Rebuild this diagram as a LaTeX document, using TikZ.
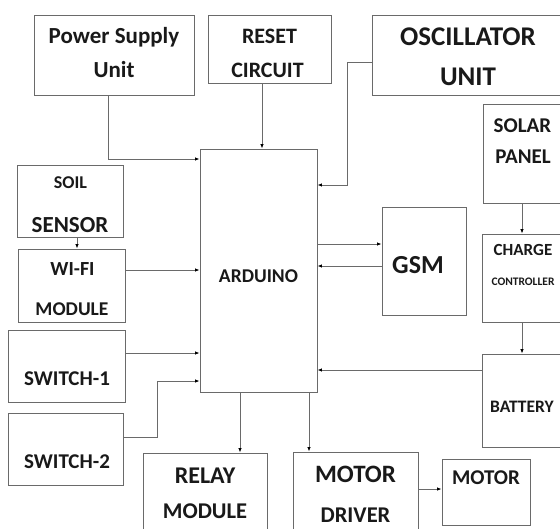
\documentclass[tikz,border=0pt]{standalone}
\usepackage{fontspec}
\setmainfont{Carlito}
\usetikzlibrary{arrows.meta}
\definecolor{edge}{HTML}{6A6A6A}
\tikzset{
  box/.style={draw=edge, line width=0.9pt, inner sep=0pt, fill=none},
  txt/.style={anchor=base, inner sep=0pt, text=black!90},
  arr/.style={draw=edge, line width=0.8pt, -{Latex[length=4.5pt,width=3.5pt,color=black]}},
}
\newcommand\fs[1]{\fontsize{#1}{#1}\selectfont\bfseries}
\begin{document}
\begin{tikzpicture}[x=1pt,y=-1pt]
\useasboundingbox (0,0) rectangle (560,528);
\clip (0,0) rectangle (560,528);
\fill[white] (0,0) rectangle (560,528);
% boxes
\node[box, minimum width=160, minimum height=80] (psu) at (114,55) {};
\node[box, minimum width=123, minimum height=68] (rst) at (269.5,49) {};
\node[box, minimum width=218, minimum height=80] (osc) at (481,55) {};
\node[box, minimum width=97, minimum height=99] (sol) at (531.5,153.5) {};
\node[box, minimum width=98, minimum height=88] (chg) at (531,278) {};
\node[box, minimum width=98, minimum height=93] (bat) at (531,400.5) {};
\node[box, minimum width=88, minimum height=66] (mot) at (486,492) {};
\node[box, minimum width=125, minimum height=108] (drv) at (355.5,506) {};
\node[box, minimum width=124, minimum height=107] (rel) at (205,506.5) {};
\node[box, minimum width=115, minimum height=72] (swb) at (65.5,449) {};
\node[box, minimum width=117, minimum height=72] (swa) at (66.5,366) {};
\node[box, minimum width=107, minimum height=73] (wifi) at (71.5,285.5) {};
\node[box, minimum width=106, minimum height=72] (soil) at (70,201) {};
\node[box, minimum width=117, minimum height=243] (ard) at (258.5,270.5) {};
\node[box, minimum width=84, minimum height=108] (gsm) at (424,261) {};
% texts
\node[txt, font=\fs{23}] (t1) at (114,43) {Power Supply};
\node[txt, font=\fs{23}] (t2) at (114,77) {Unit};
\node[txt, font=\fs{22}] (t3) at (269.5,43) {RESET};
\node[txt, font=\fs{22}] (t4) at (267.5,77) {CIRCUIT};
\node[txt, font=\fs{27}] (t5) at (468,45) {OSCILLATOR};
\node[txt, font=\fs{27}] (t6) at (468,85) {UNIT};
\node[txt, font=\fs{21}] (t7) at (522.5,132) {SOLAR};
\node[txt, font=\fs{21}] (t8) at (523,163) {PANEL};
\node[txt, font=\fs{17}] (t9) at (523,255) {CHARGE};
\node[txt, font=\fs{11.5}] (t10) at (523,285) {CONTROLLER};
\node[txt, font=\fs{17.5}] (t11) at (522,412) {BATTERY};
\node[txt, font=\fs{26}] (t12) at (418,273) {GSM};
\node[txt, font=\fs{19.5}] (t13) at (258.5,282) {ARDUINO};
\node[txt, font=\fs{18}] (t14) at (70.5,188) {SOIL};
\node[txt, font=\fs{23}] (t15) at (70,232) {SENSOR};
\node[txt, font=\fs{20}] (t16) at (72.5,275) {WI-FI};
\node[txt, font=\fs{19.5}] (t17) at (72,315) {MODULE};
\node[txt, font=\fs{21}] (t18) at (67,385) {SWITCH-1};
\node[txt, font=\fs{21}] (t19) at (67,468) {SWITCH-2};
\node[txt, font=\fs{24}] (t20) at (205,483) {RELAY};
\node[txt, font=\fs{22.5}] (t21) at (205,518) {MODULE};
\node[txt, font=\fs{25}] (t22) at (355.5,482) {MOTOR};
\node[txt, font=\fs{22.5}] (t23) at (355.5,522) {DRIVER};
\node[txt, font=\fs{21}] (t24) at (486,484) {MOTOR};
% helper coordinates
\coordinate (psuB) at (108,159);
\coordinate (rstX) at (262,0);
\coordinate (oscA) at (347,62);
\coordinate (oscB) at (347,185);
\coordinate (soilX) at (77,0);
\coordinate (wY) at (0,270);
\coordinate (s1Y) at (0,353);
\coordinate (s2A) at (157,437);
\coordinate (s2B) at (157,381);
\coordinate (relX) at (240,0);
\coordinate (drvX) at (309,0);
\coordinate (motY) at (0,489);
\coordinate (batY) at (0,370);
\coordinate (pwrX) at (522,0);
\coordinate (g1Y) at (0,244);
\coordinate (g2Y) at (0,266);
% connectors
\draw[arr] (psuB |- psu.south) -- (psuB) -- (psuB -| ard.west);
\draw[arr] (rstX |- rst.south) -- (rstX |- ard.north);
\draw[arr] (oscA -| osc.west) -- (oscA) -- (oscB) -- (oscB -| ard.east);
\draw[arr] (soilX |- soil.south) -- (soilX |- wifi.north);
\draw[arr] (wifi.east |- wY) -- (ard.west |- wY);
\draw[arr] (swa.east |- s1Y) -- (ard.west |- s1Y);
\draw[arr] (s2A -| swb.east) -- (s2A) -- (s2B) -- (s2B -| ard.west);
\draw[arr] (relX |- ard.south) -- (relX |- rel.north);
\draw[arr] (drvX |- ard.south) -- (drvX |- drv.north);
\draw[arr] (drv.east |- motY) -- (mot.west |- motY);
\draw[arr] (bat.west |- batY) -- (ard.east |- batY);
\draw[arr] (pwrX |- sol.south) -- (pwrX |- chg.north);
\draw[arr] (pwrX |- chg.south) -- (pwrX |- bat.north);
\draw[arr] (ard.east |- g1Y) -- (gsm.west |- g1Y);
\draw[arr] (gsm.west |- g2Y) -- (ard.east |- g2Y);
\end{tikzpicture}
\end{document}
